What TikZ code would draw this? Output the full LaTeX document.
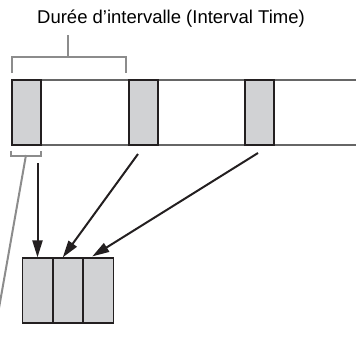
\documentclass[tikz,border=0pt]{standalone}
\usepackage{fontspec}
\setmainfont{Liberation Sans}
\usetikzlibrary{positioning,arrows.meta,calc}
\definecolor{smpgray}{HTML}{D1D2D4}
\definecolor{lngray}{HTML}{666666}
\definecolor{brgray}{HTML}{8C8C8C}
\definecolor{arblack}{HTML}{231F20}
\tikzset{
  smparr/.style={-{Triangle[length=17pt,width=10pt]},line width=2pt,draw=arblack},
  brack/.style={draw=brgray,line width=2pt},
  sample/.style={draw=arblack,fill=smpgray,line width=1.2pt,minimum width=29pt,
                 minimum height=65pt,inner sep=0pt},
  cell/.style={draw=arblack,fill=smpgray,line width=1.2pt,minimum width=29.3pt,
               minimum height=65pt,inner sep=0pt}
}
\begin{document}
\begin{tikzpicture}[x=1pt,y=-1pt]
\useasboundingbox (0,0) rectangle (356,338);
\node[font=\fontsize{18.5}{22}\selectfont] (title) at (171,19) {Durée d’intervalle (Interval Time)};

% strip
\draw[lngray,line width=1.6pt] (357,80) -- (12,80) -- (12,145) -- (357,145);
\node[sample] (s1) at (26.5,112.5) {};
\node[sample] (s2) at (143.5,112.5) {};
\node[sample] (s3) at (259.5,112.5) {};

% interval bracket
\coordinate (ia) at (12,73);
\coordinate (ib) at (126,73);
\draw[brack] (ia) -- ++(0,-16) -| (ib);
\draw[brack] (68,35) -- (68,57);

% sample bracket
\draw[brack] (s1.south west) ++(0,5) -- ++(0,5) -| ($(s1.south east)+(-1,5)$);
\draw[brack] (26,155) -- (-1,308);

% buffer
\node[cell] (b1) at (37.5,290.5) {};
\node[cell, right=0pt of b1] (b2) {};
\node[cell, right=0pt of b2] (b3) {};

\coordinate (c1) at (37.5,163);
\coordinate (c2) at (138,154);
\coordinate (c3) at (258,153);
\draw[smparr] (c1) -- (b1.north);
\draw[smparr] (c2) -- ($(b2.north west)+(10,0)$);
\draw[smparr] (c3) -- ($(b3.north west)+(9,-1)$);
\end{tikzpicture}
\end{document}
